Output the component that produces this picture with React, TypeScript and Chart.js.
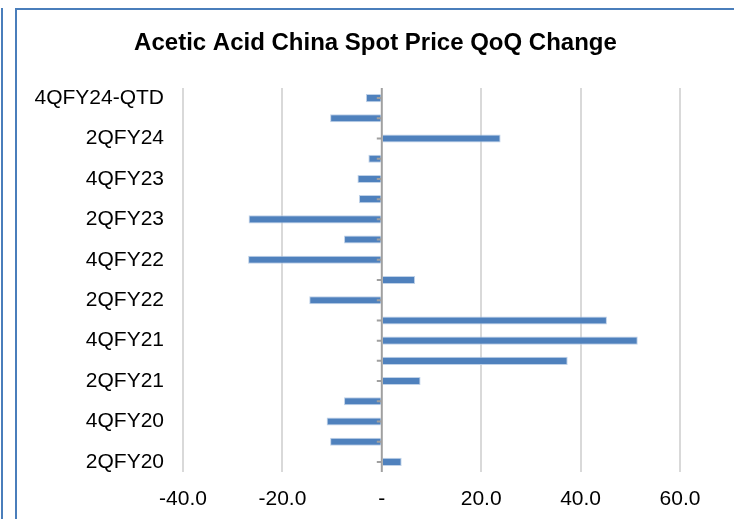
import React, { useEffect, useRef } from 'react';
import { Chart, registerables } from 'chart.js';

Chart.register(...registerables);

const categories = [
  '2QFY20', '3QFY20', '4QFY20', '1QFY21', '2QFY21', '3QFY21', '4QFY21',
  '1QFY22', '2QFY22', '3QFY22', '4QFY22', '1QFY23', '2QFY23', '3QFY23',
  '4QFY23', '1QFY24', '2QFY24', '3QFY24', '4QFY24-QTD',
];
const qoqChange = [
  4.0, -10.4, -11.1, -7.6, 7.8, 37.4, 51.5,
  45.3, -14.6, 6.7, -26.9, -7.6, -26.8, -4.6,
  -4.9, -2.7, 23.9, -10.4, -3.2,
];
const xMin = -40;
const xMax = 60;
const xStep = 20;
const titleText = 'Acetic Acid China Spot Price QoQ Change';

const FONT = "'Liberation Sans', Arial, sans-serif";

const zeroAxis = {
  id: 'zeroAxis',
  afterDatasetsDraw(chart: any) {
    const { ctx, chartArea, scales } = chart;
    const x = scales.x;
    const y = scales.y;
    const zx = x.getPixelForValue(0);
    ctx.save();
    ctx.strokeStyle = '#a0a0a0';
    ctx.lineWidth = 2;
    ctx.beginPath();
    ctx.moveTo(zx, chartArea.top);
    ctx.lineTo(zx, chartArea.bottom);
    ctx.stroke();
    ctx.lineWidth = 2;
    ctx.beginPath();
    categories.forEach((_, i) => {
      const py = y.getPixelForValue(i);
      ctx.moveTo(zx - 5, py);
      ctx.lineTo(zx, py);
    });
    ctx.stroke();
    ctx.restore();
  },
};

export default function App() {
  const ref = useRef<HTMLCanvasElement | null>(null);

  useEffect(() => {
    if (!ref.current) return;
    const chart = new Chart(ref.current, {
      type: 'bar',
      data: {
        labels: categories,
        datasets: [
          {
            data: qoqChange,
            backgroundColor: '#4F81BD',
            borderColor: 'rgba(185,205,229,0.9)',
            borderWidth: 1,
            barPercentage: 0.4,
            categoryPercentage: 1,
          },
        ],
      },
      options: {
        indexAxis: 'y',
        responsive: false,
        animation: false,
        layout: { padding: 0 },
        plugins: {
          legend: { display: false },
          tooltip: { enabled: false },
          title: {
            display: true,
            text: titleText,
            color: '#000',
            font: { family: FONT, size: 24, weight: 'bold' },
            padding: { top: 18.6, bottom: 30.6 },
          },
        },
        scales: {
          x: {
            type: 'linear',
            min: xMin,
            max: xMax,
            ticks: {
              stepSize: xStep,
              color: '#000',
              font: { family: FONT, size: 21 },
              padding: 14.5,
              callback: (v: any) => (Number(v) === 0 ? '-' : Number(v).toFixed(1)),
            },
            grid: {
              drawTicks: false,
              lineWidth: 2,
              color: (c: any) => (c.tick && c.tick.value === 0 ? 'rgba(0,0,0,0)' : '#d9d9d9'),
            },
            border: { display: false },
            afterFit: (s: any) => {
              s.height = 47;
            },
          },
          y: {
            type: 'category',
            reverse: true,
            ticks: {
              autoSkip: false,
              color: '#000',
              font: { family: FONT, size: 21 },
              padding: 19,
              callback: (_v: any, i: number) => (i % 2 === 0 ? categories[i] : ''),
            },
            grid: { display: false, drawTicks: false },
            border: { display: false },
            afterFit: (s: any) => {
              s.width = 166;
            },
          },
          pad: {
            type: 'linear',
            position: 'right',
            display: true,
            ticks: { display: false },
            grid: { display: false, drawTicks: false },
            border: { display: false },
            afterFit: (s: any) => {
              s.width = 54;
            },
          },
        },
      },
      plugins: [zeroAxis],
    } as any);
    return () => chart.destroy();
  }, []);

  return (
    <div
      style={{
        position: 'absolute',
        left: 0,
        top: 0,
        width: 734,
        height: 519,
        overflow: 'hidden',
        background: '#fff',
      }}
    >
      <div
        style={{
          position: 'absolute',
          left: 1,
          top: 8,
          width: 2,
          height: 511,
          background: '#4a7ebb',
        }}
      />
      <div
        style={{
          position: 'absolute',
          left: 15,
          top: 8,
          width: 800,
          height: 600,
          borderTop: '2px solid #4a7ebb',
          borderLeft: '2px solid #4a7ebb',
          background: '#fff',
        }}
      />
      <div style={{ position: 'absolute', left: 17, top: 10, width: 717, height: 509 }}>
        <canvas ref={ref} width={717} height={509} style={{ display: 'block' }} />
      </div>
    </div>
  );
}
